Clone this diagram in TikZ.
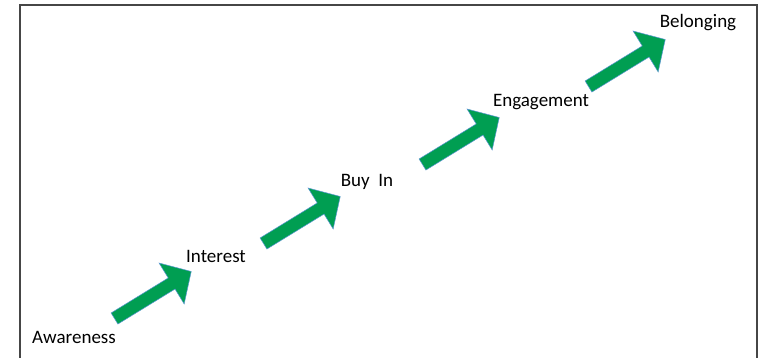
\documentclass[tikz,border=0pt]{standalone}
\usepackage{fontspec}
\setmainfont{Carlito}
\definecolor{arrowgreen}{RGB}{0,158,82}
\definecolor{arrowedge}{RGB}{90,150,210}
\definecolor{framegray}{RGB}{70,70,70}
\tikzset{
  lbl/.style={font=\fontsize{19}{22}\selectfont, inner sep=0pt, text=black},
  bigarrow/.pic={
    \fill[arrowgreen, draw=arrowedge, line width=0.5pt, line join=miter]
      (0,-6.5) -- (67,-6.5) -- (67,-24) -- (90,0) -- (67,24) -- (67,6.5) -- (0,6.5) -- cycle;
  }
}
\begin{document}
\begin{tikzpicture}[x=1pt,y=-1pt]
\useasboundingbox (0,0) rectangle (762,358);
\coordinate (fbl) at (20,362);
\coordinate (ftl) at (20,5);
\coordinate (ftr) at (757,5);
\coordinate (fbr) at (757,362);
\draw[framegray, line width=1.4pt] (fbl) -- (ftl) -- (ftr) -- (fbr);

\pic[rotate=31.5] (a1) at (114.5,318.5) {bigarrow};
\pic[rotate=31.5] (a2) at (263.5,243.5) {bigarrow};
\pic[rotate=31.5] (a3) at (422.5,164.5) {bigarrow};
\pic[rotate=31.5] (a4) at (588.5,86.5) {bigarrow};

\node[lbl] (awareness) at (74,337) {Awareness};
\node[lbl] (interest) at (216,256) {Interest};
\node[lbl] (buyin) at (367,182) {Buy\ \ In};
\node[lbl] (engagement) at (541,102) {Engagement};
\node[lbl] (belonging) at (698,23) {Belonging};
\end{tikzpicture}
\end{document}
